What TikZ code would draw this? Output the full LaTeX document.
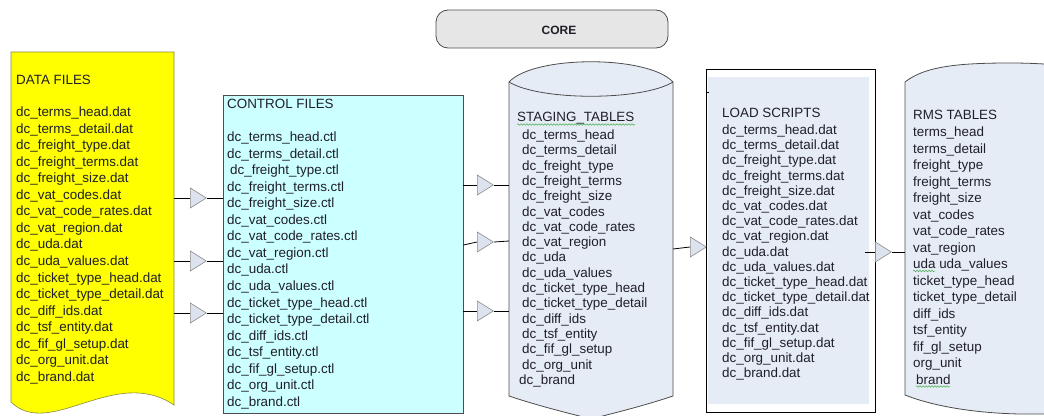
\documentclass[tikz,border=0pt]{standalone}
\usepackage{fontspec}
\setmainfont{Liberation Sans}
\usetikzlibrary{shapes.geometric,decorations.pathmorphing}
\definecolor{datayellow}{HTML}{FFFF00}
\definecolor{dataedge}{HTML}{8A8A40}
\definecolor{ctlcyan}{HTML}{CCFFFF}
\definecolor{tablefill}{HTML}{E6ECF6}
\definecolor{corefill}{HTML}{E6E6E6}
\definecolor{edgegray}{HTML}{4D4D4D}
\definecolor{inkdark}{HTML}{1F1F2A}
\definecolor{arrowfill}{HTML}{DCE2EE}
\definecolor{arrowedge}{HTML}{8C8C8C}
\definecolor{spellgreen}{HTML}{4CAF50}
\begin{document}
\begin{tikzpicture}[x=1pt,y=-1pt,
  listtext/.style={anchor=base west, inner sep=0pt, text=inkdark,
    font=\fontsize{13.4pt}{16.5pt}\selectfont},
  flowtip/.style={isosceles triangle, isosceles triangle stretches,
    minimum width=20pt, minimum height=16pt, inner sep=0pt, anchor=lower side,
    draw=arrowedge, fill=arrowfill, line width=0.6pt},
  link/.style={draw=black, line width=0.8pt},
  squiggle/.style={draw=spellgreen, line width=0.5pt, decorate,
    decoration={snake, amplitude=0.8pt, segment length=3pt}}
]
\useasboundingbox (0,0) rectangle (1044,415);
\fill[white] (0,0) rectangle (1044,415);
\begin{scope}
\clip (0,0) rectangle (1044,415);

% ---------- CORE banner ----------
\node[draw=edgegray, fill=corefill, rounded corners=12pt, minimum width=232pt,
      minimum height=38pt, inner sep=0pt, line width=0.8pt] (core) at (552,29) {};
\node[inner sep=0pt, text=inkdark, font=\fontsize{12pt}{14pt}\selectfont\bfseries]
      (corelabel) at (559,30) {CORE};

% ---------- data files (document shape) ----------
\path[draw=dataedge, fill=datayellow, line width=0.6pt]
  (11,52) -- (174,52) -- (174,405)
  .. controls (115,365) and (50,440) .. (11,402) -- cycle;
\node[listtext] (datatitle) at (16,84.5) {DATA FILES};
\foreach \t [count=\i] in {dc\_terms\_head.dat, dc\_terms\_detail.dat,
  dc\_freight\_type.dat, dc\_freight\_terms.dat, dc\_freight\_size.dat,
  dc\_vat\_codes.dat, dc\_vat\_code\_rates.dat, dc\_vat\_region.dat,
  dc\_uda.dat, dc\_uda\_values.dat, dc\_ticket\_type\_head.dat,
  dc\_ticket\_type\_detail.dat, dc\_diff\_ids.dat, dc\_tsf\_entity.dat,
  dc\_fif\_gl\_setup.dat, dc\_org\_unit.dat, dc\_brand.dat}
  \node[listtext] (data-\i) at (16,{116.5+(\i-1)*16.56}) {\t};

% ---------- control files ----------
\node[draw=edgegray, fill=ctlcyan, minimum width=240pt, minimum height=318pt,
      inner sep=0pt, line width=0.8pt] (ctl) at (343,254) {};
\node[listtext] (ctltitle) at (227,108.5) {CONTROL FILES};
\foreach \t [count=\i] in {dc\_terms\_head.ctl, dc\_terms\_detail.ctl,
  \hspace{3pt}dc\_freight\_type.ctl, dc\_freight\_terms.ctl, dc\_freight\_size.ctl,
  dc\_vat\_codes.ctl, dc\_vat\_code\_rates.ctl, dc\_vat\_region.ctl,
  dc\_uda.ctl, dc\_uda\_values.ctl, dc\_ticket\_type\_head.ctl,
  dc\_ticket\_type\_detail.ctl, dc\_diff\_ids.ctl, dc\_tsf\_entity.ctl,
  dc\_fif\_gl\_setup.ctl, dc\_org\_unit.ctl, dc\_brand.ctl}
  \node[listtext] (ctl-\i) at (227,{141.5+(\i-1)*16.56}) {\t};

% ---------- staging tables (cylinder) ----------
\path[fill=tablefill, draw=edgegray, line width=0.8pt]
  (509,82) .. controls (534,55) and (648,55) .. (673,82) -- (673,396)
  .. controls (640,407) and (610,414) .. (591,419)
  .. controls (572,414) and (542,407) .. (509,396) -- cycle;
\draw[edgegray, line width=0.8pt] (509,82) .. controls (540,101) and (642,101) .. (673,82);
\node[listtext] (stgtitle) at (517,121.5) {STAGING\_TABLES};
\draw[squiggle] (517,124.5) -- (635,124.5);
\foreach \t [count=\i] in {dc\_terms\_head, dc\_terms\_detail,
  dc\_freight\_type, dc\_freight\_terms, dc\_freight\_size,
  dc\_vat\_codes, dc\_vat\_code\_rates, dc\_vat\_region,
  dc\_uda, dc\_uda\_values, dc\_ticket\_type\_head,
  dc\_ticket\_type\_detail, dc\_diff\_ids, dc\_tsf\_entity,
  dc\_fif\_gl\_setup, dc\_org\_unit, \hspace{-3pt}dc\_brand}
  \node[listtext] (stg-\i) at (522,{139.5+(\i-1)*15.3}) {\t};

% ---------- load scripts ----------
\fill[tablefill] (708,77) rectangle (869,404);
\node[draw=black, minimum width=169pt, minimum height=343pt, inner sep=0pt,
      line width=0.8pt] (load) at (790.5,240.5) {};
\draw[black, line width=0.8pt] (load.west |- 0,92) -- ++(3,0);
\node[listtext] (loadtitle) at (722,117.5) {LOAD SCRIPTS};
\foreach \t [count=\i] in {dc\_terms\_head.dat, dc\_terms\_detail.dat,
  dc\_freight\_type.dat, dc\_freight\_terms.dat, dc\_freight\_size.dat,
  dc\_vat\_codes.dat, dc\_vat\_code\_rates.dat, dc\_vat\_region.dat,
  dc\_uda.dat, dc\_uda\_values.dat, dc\_ticket\_type\_head.dat,
  dc\_ticket\_type\_detail.dat, dc\_diff\_ids.dat, dc\_tsf\_entity.dat,
  dc\_fif\_gl\_setup.dat, dc\_org\_unit.dat, dc\_brand.dat}
  \node[listtext] (load-\i) at (722,{134.5+(\i-1)*15.2}) {\t};

% ---------- RMS tables ----------
\path[fill=tablefill]
  (905,82) .. controls (925,66) and (960,63) .. (1010,63)
  .. controls (1030,63) and (1045,64) .. (1060,65) -- (1060,414) -- (1020,414)
  .. controls (970,413) and (930,405) .. (905,395) -- cycle;
\draw[edgegray, line width=0.8pt]
  (1060,65) .. controls (1045,64) and (1030,63) .. (1010,63)
  .. controls (960,63) and (925,66) .. (905,82) -- (905,395)
  .. controls (930,405) and (970,413) .. (1020,414) -- (1060,414);
\node[listtext] (rmstitle) at (913,119.5) {RMS TABLES};
\foreach \t [count=\i] in {terms\_head, terms\_detail,
  freight\_type, freight\_terms, freight\_size,
  vat\_codes, vat\_code\_rates, vat\_region,
  uda uda\_values, ticket\_type\_head,
  ticket\_type\_detail, diff\_ids, tsf\_entity,
  fif\_gl\_setup, org\_unit, \hspace{3pt}brand}
  \node[listtext] (rms-\i) at (913,{136.5+(\i-1)*16.5}) {\t};
\draw[squiggle] (913,271) -- (935,271);
\draw[squiggle] (916,386.5) -- (950,386.5);

% ---------- edge points of the drawn shapes ----------
\coordinate (dA) at (174,198);
\coordinate (dB) at (174,261);
\coordinate (dC) at (174,313);
\coordinate (sA) at (509,185);
\coordinate (sB) at (509,241);
\coordinate (sC) at (509,311);
\coordinate (sOut) at (673,249);
\coordinate (loadOut) at (865,252);
\coordinate (rIn) at (905,252);

% ---------- data files -> control files ----------
\node[flowtip] (tA) at (190,198) {};
\node[flowtip] (tB) at (190,261) {};
\node[flowtip] (tC) at (190,313) {};
\foreach \k in {A,B,C} {
  \draw[link] (d\k) -- (t\k.lower side);
  \draw[link] (t\k.apex) -- (t\k.apex -| ctl.west);
}

% ---------- control files -> staging tables ----------
\node[flowtip] (tD) at (477,185) {};
\node[flowtip] (tE) at (477,242) {};
\node[flowtip] (tF) at (477,311) {};
\draw[link] (ctl.east |- tD) -- (tD.lower side);
\draw[link] (ctl.east |- 0,245) -- (tE.lower side);
\draw[link] (ctl.east |- tF) -- (tF.lower side);
\draw[link] (tD.apex) -- (sA);
\draw[link] (tE.apex) -- (sB);
\draw[link] (tF.apex) -- (sC);

% ---------- staging tables -> load scripts ----------
\node[flowtip] (tG) at (690,247) {};
\draw[link] (sOut) -- (tG.lower side);
\draw[link] (tG.apex) -- (tG.apex -| load.west);

% ---------- load scripts -> RMS tables ----------
\node[flowtip] (tH) at (875,252) {};
\draw[link] (loadOut) -- (tH.lower side);
\draw[link] (tH.apex) -- (rIn);
\end{scope}
\end{tikzpicture}
\end{document}
